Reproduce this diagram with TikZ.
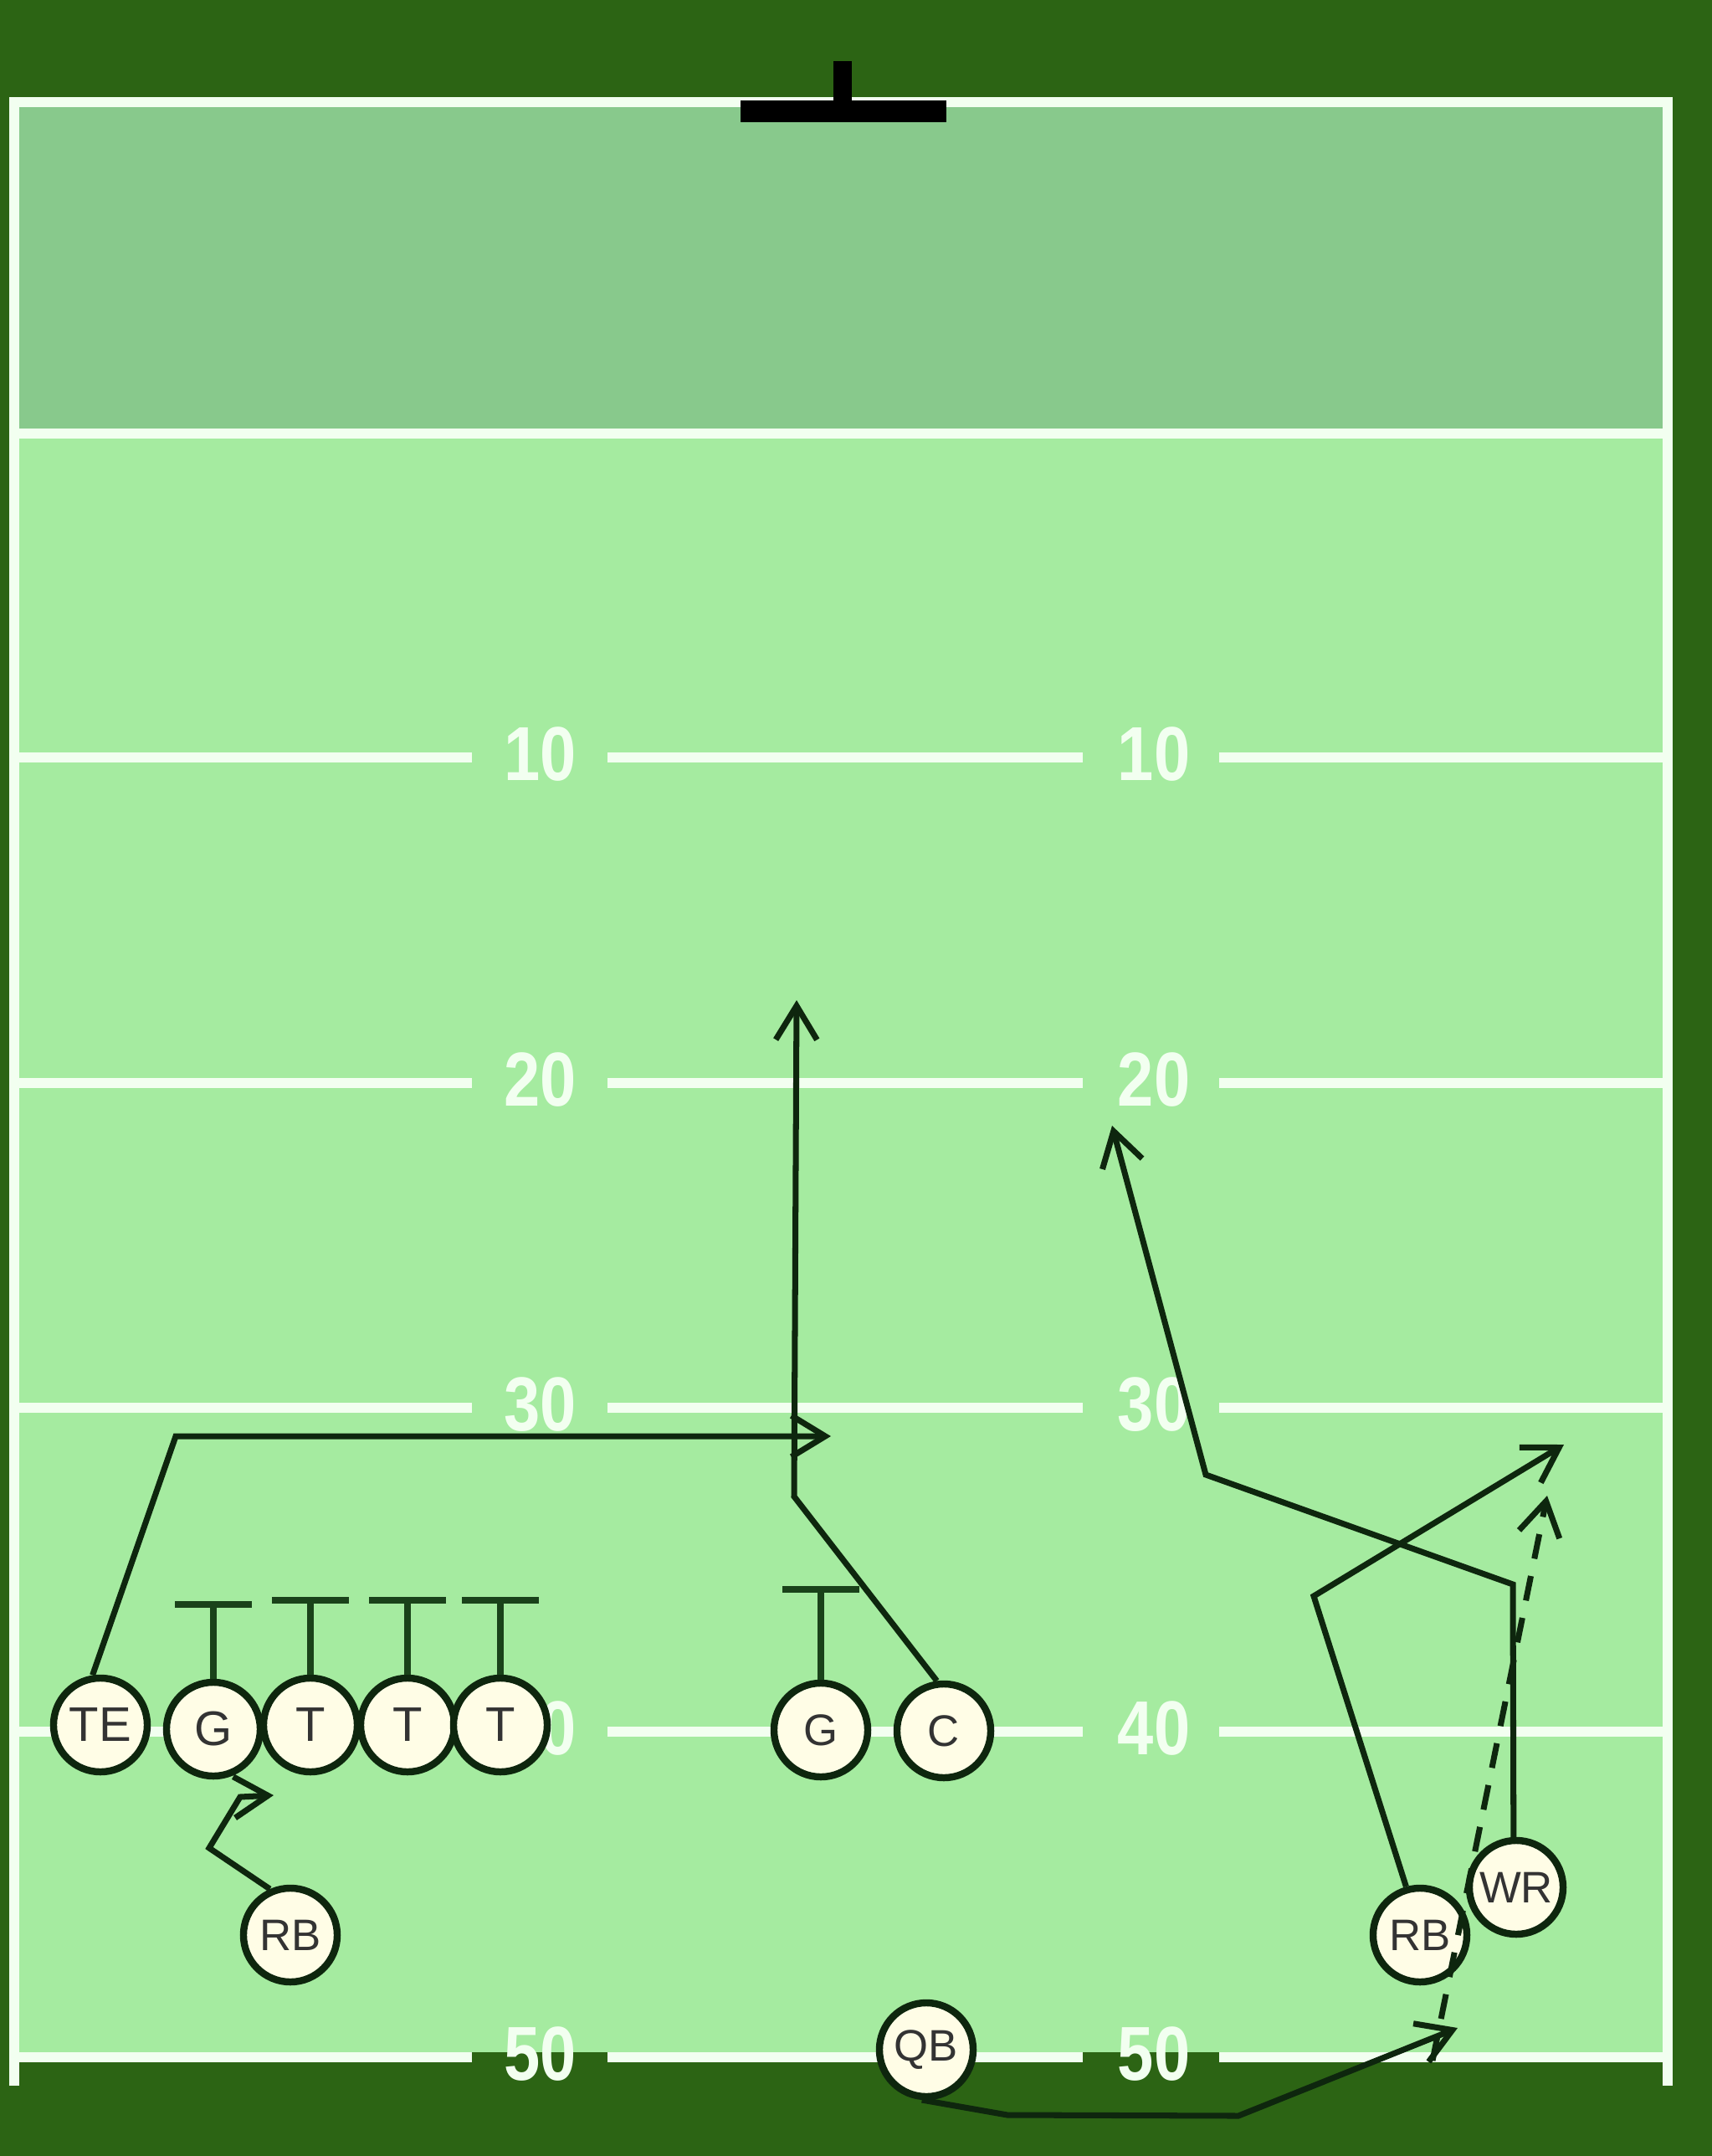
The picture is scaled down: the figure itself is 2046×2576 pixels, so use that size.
\documentclass[tikz,border=0pt]{standalone}
\usepackage{fontspec}
\setmainfont{Liberation Sans}
\usetikzlibrary{arrows.meta,positioning}
\definecolor{turf}{HTML}{2C6414}
\definecolor{grass}{HTML}{A5EBA0}
\definecolor{endzone}{HTML}{88C98C}
\definecolor{chalk}{HTML}{F2FFF0}
\definecolor{jersey}{HTML}{FFFDE6}
\definecolor{ink}{HTML}{0E260E}
\definecolor{blockink}{HTML}{1A421A}

\begin{document}
\begin{tikzpicture}[x=0.01cm, y=-0.01cm, >={Straight Barb[length=11.5pt,width=14pt]},
  player/.style={circle, draw=ink, line width=2.4pt, fill=jersey, minimum size=1.12cm, inner sep=0pt, text=black!80, font=\fontsize{15}{15}\selectfont},
  lineman/.style={player, font=\fontsize{16.5}{16.5}\selectfont},
  route/.style={->, ink, line width=2pt},
  blk/.style={blockink, line width=2.2pt},
  yard/.style={chalk, line width=3.4pt},
  num/.style={text=chalk, inner sep=0pt, font=\fontsize{26}{26}\selectfont\bfseries}]

  \fill[turf] (0,0) rectangle (2046,2576);
  \useasboundingbox (0,0) rectangle (2046,2576);
  \fill[grass] (17,122) rectangle (1993,2452);
  \fill[endzone] (17,122) rectangle (1993,518);
  \draw[yard] (17,2492) -- (17,122) -- (1993,122) -- (1993,2492);
  \draw[yard] (17,518) -- (1993,518);
  \foreach \y/\n in {905/10, 1294/20, 1682/30, 2069/40, 2458/50} {
    \draw[yard] (17,\y) -- (564,\y) (726,\y) -- (1294,\y) (1457,\y) -- (1993,\y);
    \node[num] (numl\n) at (646,\y-4) {\scalebox{0.85}[1]{\n}};
    \node[num] (numr\n) at (1379,\y-4) {\scalebox{0.85}[1]{\n}};
  }
  \fill[black] (885,120) rectangle (1131,146);
  \fill[black] (996,73) rectangle (1018,120);

  \node[lineman] (TE) at (120,2061) {TE};
  \node[lineman] (LG) at (255,2066) {G};
  \node[lineman] (LT1) at (371,2061) {T};
  \node[lineman] (LT2) at (487,2061) {T};
  \node[lineman] (LT3) at (598,2061) {T};
  \node[player] (LRB) at (347,2312) {RB};
  \node[player] (RG) at (981,2067) {G};
  \node[player] (C) at (1128,2068) {C};
  \node[player] (QB) at (1107,2449) {QB};
  \node[player] (RRB) at (1697,2312) {RB};
  \node[player] (WR) at (1812,2255) {WR};

  \foreach \p/\h in {LG/89, LT1/89, LT2/89, LT3/89, RG/108}
    \draw[blk] (\p.north) -- ++(0,-\h) ++(-46,0) -- ++(92,0);

  \draw[route] (TE.99) -- (210,1716) -- (993,1716);
  \draw[route] (C.98) -- (949,1788) -- (952,1195);
  \draw[route] (LRB.114) -- (250,2208) -- (287,2147) -- (327,2145);
  \draw[route] (RRB.106) -- (1570,1907) -- (1869,1726);
  \draw[route] (WR.93) -- (1808,1893) -- (1441,1762) -- (1329,1345);
  \draw[route] (QB.265) -- (1204,2527) -- (1480,2528) -- (1742,2423);
  \coordinate (catch) at (1712,2462);
  \draw[route, dash pattern=on 8.5pt off 6pt] (catch) -- (1849,1787);
\end{tikzpicture}
\end{document}
